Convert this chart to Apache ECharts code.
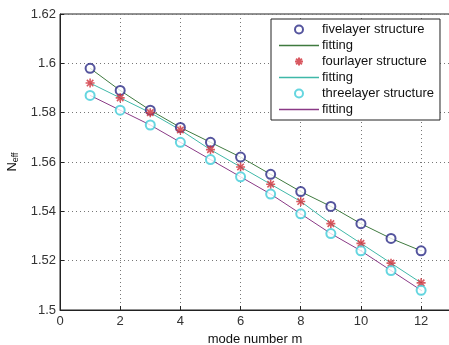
<!DOCTYPE html>
<html><head><meta charset="utf-8">
<script src="https://cdn.jsdelivr.net/npm/echarts@6/dist/echarts.min.js"></script>
<style>html,body{margin:0;padding:0;background:#fff}#c{width:449px;height:345px}</style>
</head><body><div id="c"></div>
<script>
const modes = [1,2,3,4,5,6,7,8,9,10,11,12];
const five = [1.598,1.589,1.581,1.574,1.568,1.562,1.555,1.548,1.542,1.535,1.529,1.524];
const four = [1.592,1.586,1.580,1.573,1.565,1.558,1.551,1.544,1.535,1.527,1.519,1.511];
const three = [1.587,1.581,1.575,1.568,1.561,1.554,1.547,1.539,1.531,1.524,1.516,1.508];
const xTicks = [0,2,4,6,8,10,12];
const yTicks = [1.5,1.52,1.54,1.56,1.58,1.6,1.62];

const pts = a => modes.map((m,i)=>[m,a[i]]);
const star = 'path://M0,-5L0,5M-5,0L5,0M-3.6,-3.6L3.6,3.6M-3.6,3.6L3.6,-3.6';
const lineIcon = 'path://M0,0L40,0L40,1.5L0,1.5Z';
const font = 'Liberation Sans, Arial, sans-serif';
const cFive = '#2a2a86', cFiveFit = '#3f7a3f', cFour = '#d0303a', cFourFit = '#3fb8a8', cThree = '#40ccd8', cThreeFit = '#8a3a86';
const chart = echarts.init(document.getElementById('c'));
const fitItem = (name,c) => ({name,icon:lineIcon,itemStyle:{color:c,borderWidth:0,opacity:1},lineStyle:{color:c}});
chart.setOption({
  animation:false,
  grid:{left:60,top:14,right:-1,bottom:35,outerBoundsMode:'none',containLabel:false,show:true,borderColor:'#222',borderWidth:1},
  xAxis:{type:'value',min:0,max:12.96,interval:2,
    axisLine:{show:true,lineStyle:{color:'#222'}},
    axisTick:{show:true,inside:true,length:4,lineStyle:{color:'#222'}},
    splitLine:{show:true,lineStyle:{color:'#777',type:[1,3],width:1}},
    axisLabel:{color:'#333',fontFamily:font,fontSize:13,margin:5,showMaxLabel:false,
      formatter:v=>xTicks.includes(v)?String(v):''},
    name:'mode number m',nameLocation:'middle',nameGap:17,
    nameTextStyle:{color:'#111',fontFamily:font,fontSize:13}},
  yAxis:{type:'value',min:1.5,max:1.62,interval:0.02,
    axisLine:{show:true,lineStyle:{color:'#222'}},
    axisTick:{show:true,inside:true,length:4,lineStyle:{color:'#222'}},
    splitLine:{show:true,lineStyle:{color:'#777',type:[1,3],width:1}},
    axisLabel:{color:'#333',fontFamily:font,fontSize:13,margin:4,
      formatter:v=>{const t=yTicks.find(y=>Math.abs(y-v)<1e-9);return t===undefined?'':String(t);}},
    name:'{n|N}{s|eff}',nameLocation:'middle',nameGap:40,nameRotate:90,
    nameTextStyle:{rich:{n:{fontFamily:font,fontSize:13,color:'#111'},
      s:{fontFamily:font,fontSize:9,color:'#111',verticalAlign:'bottom',padding:[6,0,0,0]}}}},
  legend:{orient:'vertical',left:271,top:19,width:174,
    backgroundColor:'#fff',borderColor:'#222',borderWidth:1,
    padding:[3,6,3,8],itemGap:1,itemWidth:40,itemHeight:8,
    textStyle:{fontFamily:font,fontSize:13,color:'#111',padding:[0,0,0,-2],lineHeight:15},
    data:[{name:'fivelayer structure'},
          fitItem('fitting',cFiveFit),
          {name:'fourlayer structure'},
          fitItem('fitting ',cFourFit),
          {name:'threelayer structure'},
          fitItem('fitting  ',cThreeFit)]},
  series:[
    {name:'fivelayer structure',type:'scatter',data:pts(five),symbol:'emptyCircle',symbolSize:9,z:5,
      itemStyle:{color:cFive,borderColor:cFive,borderWidth:1}},
    {name:'fitting',type:'line',data:pts(five),showSymbol:false,symbol:'none',z:3,
      lineStyle:{color:cFiveFit,width:1},itemStyle:{color:cFiveFit}},
    {name:'fourlayer structure',type:'scatter',data:pts(four),symbol:star,symbolSize:9,z:5,
      itemStyle:{color:'none',borderColor:cFour,borderWidth:1.6}},
    {name:'fitting ',type:'line',data:pts(four),showSymbol:false,symbol:'none',z:3,
      lineStyle:{color:cFourFit,width:1},itemStyle:{color:cFourFit}},
    {name:'threelayer structure',type:'scatter',data:pts(three),symbol:'emptyCircle',symbolSize:9,z:5,
      itemStyle:{color:cThree,borderColor:cThree,borderWidth:1}},
    {name:'fitting  ',type:'line',data:pts(three),showSymbol:false,symbol:'none',z:3,
      lineStyle:{color:cThreeFit,width:1},itemStyle:{color:cThreeFit}}
  ]
});
</script></body></html>
